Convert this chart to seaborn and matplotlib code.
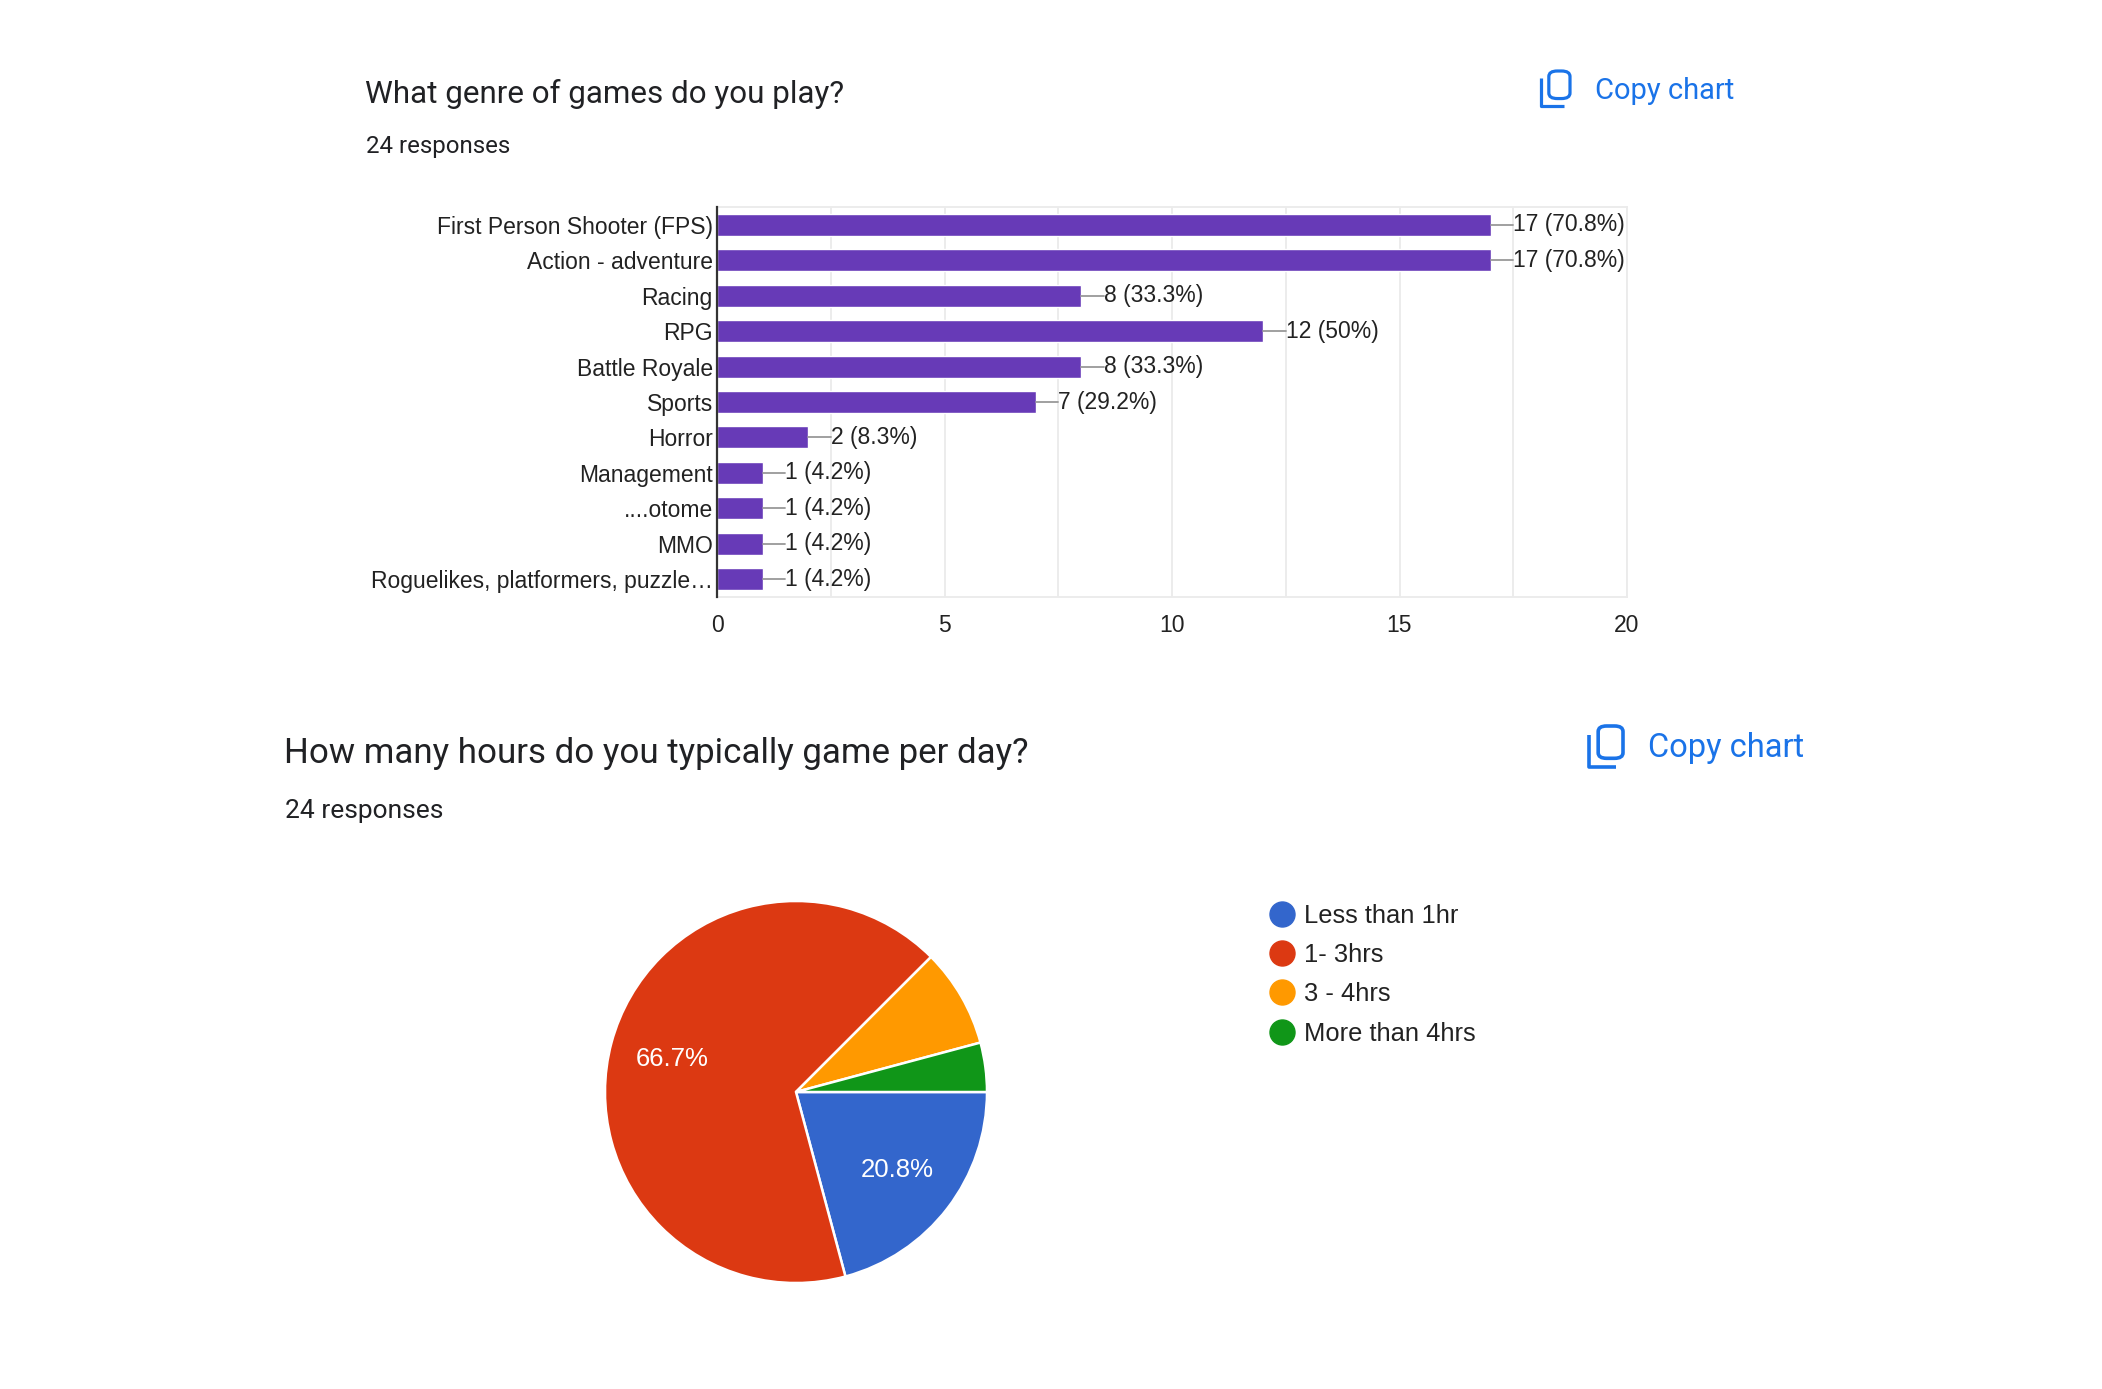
import matplotlib
matplotlib.use("Agg")
import matplotlib.pyplot as plt
import seaborn as sns
import pandas as pd
from matplotlib.lines import Line2D
from matplotlib.patches import FancyBboxPatch

# data - genre question
genres = ["First Person Shooter (FPS)", "Action - adventure", "Racing", "RPG",
          "Battle Royale", "Sports", "Horror", "Management", "....otome", "MMO",
          "Roguelikes, platformers, puzzle\u2026"]
genre_counts = [17, 17, 8, 12, 8, 7, 2, 1, 1, 1, 1]
genre_pcts = ["70.8%", "70.8%", "33.3%", "50%", "33.3%", "29.2%", "8.3%",
              "4.2%", "4.2%", "4.2%", "4.2%"]
x_ticks = [0, 5, 10, 15, 20]

# data - hours question
hour_labels = ["Less than 1hr", "1- 3hrs", "3 - 4hrs", "More than 4hrs"]
hour_counts = [5, 16, 2, 1]
hour_colors = ["#3366cc", "#dc3912", "#ff9900", "#109618"]

n_responses = 24

W, H = 2102, 1389
TITLE_FONT = ["Roboto", "DejaVu Sans"]
CHART_FONT = ["Liberation Sans", "DejaVu Sans"]
BLUE = "#1a73e8"
DARK = "#202124"

sns.set_theme(style="white")
plt.rcParams["font.family"] = CHART_FONT

fig = plt.figure(figsize=(W / 100, H / 100), dpi=100)
fig.patch.set_facecolor("white")


def fx(px):
    return px / W


def fy(py):
    return 1 - py / H


def copy_icon(x0, y0, s, lw):
    # two overlapping pages, drawn in pixel units starting at top-left (x0, y0)
    front = FancyBboxPatch((fx(x0 + 0.27 * s), fy(y0 + 0.95 * s)),
                           0.73 * s / W, 0.95 * s / H,
                           boxstyle="round,pad=0,rounding_size=0.004",
                           transform=fig.transFigure, fill=False,
                           edgecolor=BLUE, linewidth=lw)
    fig.patches.append(front)
    fig.add_artist(Line2D([fx(x0), fx(x0), fx(x0 + 0.78 * s)],
                          [fy(y0 + 0.25 * s), fy(y0 + 1.2 * s), fy(y0 + 1.2 * s)],
                          transform=fig.transFigure, color=BLUE, linewidth=lw,
                          solid_capstyle="butt"))


# ---------------- bar chart ----------------
fig.text(fx(365), fy(94), "What genre of games do you play?", family=TITLE_FONT,
         fontsize=22.6, color=DARK, va="center", ha="left")
fig.text(fx(366), fy(147), f"{n_responses} responses", family=TITLE_FONT,
         fontsize=17.3, color=DARK, va="center", ha="left")
copy_icon(1541, 71, 29, 2.3)
fig.text(fx(1595), fy(91), "Copy chart", family=TITLE_FONT, fontsize=21,
         color=BLUE, va="center", ha="left")

ax = fig.add_axes([717 / W, 1 - 597 / H, 910 / W, 390 / H])
df = pd.DataFrame({"genre": genres, "count": genre_counts})
sns.barplot(data=df, x="count", y="genre", orient="h", color="#673ab7",
            width=0.62, saturation=1, ax=ax, zorder=3)
ax.set_xlim(0, 20)
ax.set_ylim(len(genres) - 0.5, -0.5)
ax.set_xticks(x_ticks)
ax.set_xticks([t + 2.5 for t in x_ticks[:-1]], minor=True)
ax.grid(axis="x", which="both", color="#ebebeb", linewidth=1.3, zorder=0)
ax.set_xlabel("")
ax.set_ylabel("")
ax.tick_params(axis="both", length=0, labelsize=16.5, labelcolor="#222222")
ax.tick_params(axis="x", pad=12)
ax.tick_params(axis="y", pad=3)
for side in ["top", "bottom", "right"]:
    ax.spines[side].set_color("#ebebeb")
    ax.spines[side].set_linewidth(1.3)
ax.spines["left"].set_color("#333333")
ax.spines["left"].set_linewidth(1.6)
ax.spines["left"].set_zorder(5)

for i, (c, p) in enumerate(zip(genre_counts, genre_pcts)):
    ax.plot([c, c + 0.5], [i, i], color="#999999", linewidth=1.3, zorder=4)
    ax.text(c + 0.5, i, f"{c} ({p})", va="center", ha="left",
            fontsize=16.5, color="#222222")

# ---------------- pie chart ----------------
fig.text(fx(284), fy(753), "How many hours do you typically game per day?",
         family=TITLE_FONT, fontsize=25.1, color=DARK, va="center", ha="left")
fig.text(fx(285), fy(811), f"{n_responses} responses", family=TITLE_FONT,
         fontsize=19, color=DARK, va="center", ha="left")
copy_icon(1589, 726, 34, 2.6)
fig.text(fx(1648), fy(748), "Copy chart", family=TITLE_FONT, fontsize=23.5,
         color=BLUE, va="center", ha="left")

pax = fig.add_axes([605 / W, 1 - 1283 / H, 382 / W, 382 / H])


def pct_label(v):
    return f"{v:.1f}%" if v > 10 else ""


pax.pie(hour_counts, colors=hour_colors, startangle=0, counterclock=False,
        autopct=pct_label, pctdistance=0.67,
        wedgeprops={"edgecolor": "white", "linewidth": 1.8},
        textprops={"color": "white", "fontsize": 18.5})
pax.set_xlim(-1, 1)
pax.set_ylim(-1, 1)
pax.set_aspect("equal")
pax.axis("off")

handles = [Line2D([0], [0], marker="o", linestyle="", markersize=18,
                  markerfacecolor=c, markeredgecolor=c) for c in hour_colors]
fig.legend(handles, hour_labels, loc="upper left",
           bbox_to_anchor=(1255 / W, 1 - 891 / H), frameon=False,
           fontsize=18.4, labelspacing=0.6, handletextpad=0.3,
           handlelength=1.1, borderpad=0, labelcolor="#222222")

fig.savefig("out.png", dpi=100, facecolor="white")
